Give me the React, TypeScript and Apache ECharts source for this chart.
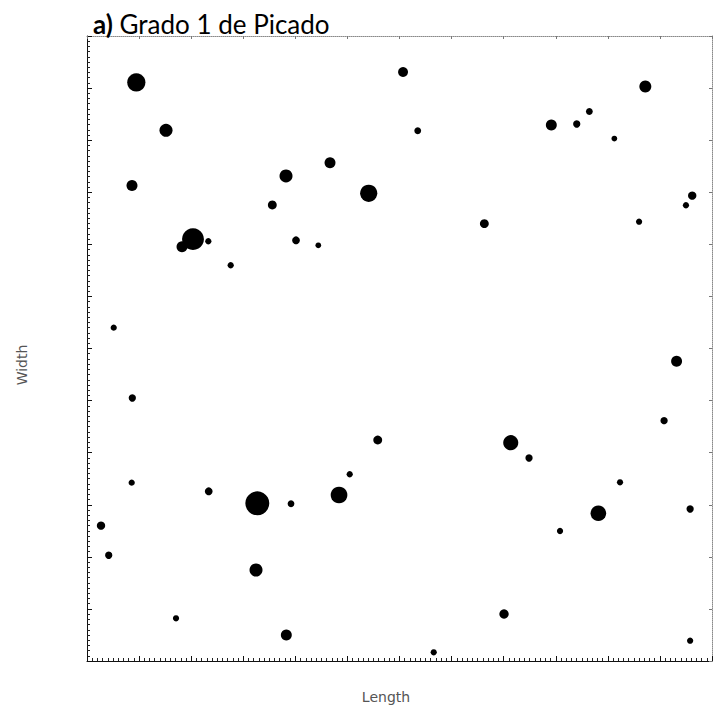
import React, { useEffect, useRef } from "react";
import * as echarts from "echarts";

// Pit centres on the sample surface (axis units) and pit diameters (same units)
const pitLength = [
  0.947, 1.517, 0.864, 2.035, 1.824, 2.329, 2.759, 0.513, 3.558, 3.821,
  4.666, 5.409, 4.013, 4.441, 6.068, 6.35, 7.629, 8.915, 9.403, 9.645,
  10.125, 10.72, 10.6, 11.5, 11.62, 0.87, 5.582, 5.044, 4.839, 3.27,
  3.917, 2.337, 0.858, 0.269, 0.417, 3.245, 1.709, 3.827, 11.32, 11.08,
  8.136, 8.487, 10.234, 9.818, 11.58, 9.082, 8.007, 6.657, 11.58,
];
const pitWidth = [
  11.11, 10.19, 9.13, 8.1, 7.955, 8.059, 7.598, 6.4, 8.756, 9.313,
  9.568, 8.98, 8.078, 7.982, 11.31, 10.18, 8.397, 10.29, 10.31, 10.55,
  10.03, 11.03, 8.435, 8.75, 8.934, 5.05, 4.243, 3.585, 3.187, 3.028,
  3.02, 3.258, 3.424, 2.598, 2.03, 1.747, 0.82, 0.499, 5.755, 4.614,
  4.192, 3.898, 3.431, 2.836, 2.919, 2.496, 0.902, 0.167, 0.39,
];
const pitDiameter = [
  0.35, 0.25, 0.21, 0.42, 0.21, 0.12, 0.12, 0.12, 0.17, 0.25,
  0.21, 0.33, 0.15, 0.11, 0.19, 0.13, 0.17, 0.21, 0.14, 0.13,
  0.11, 0.23, 0.12, 0.12, 0.16, 0.14, 0.17, 0.12, 0.32, 0.46,
  0.13, 0.15, 0.12, 0.16, 0.14, 0.25, 0.12, 0.21, 0.21, 0.14,
  0.29, 0.14, 0.12, 0.3, 0.14, 0.12, 0.18, 0.12, 0.12,
];

const AXIS_MIN = 0;
const AXIS_MAX = 12;

const GRID = { left: 87, top: 36, width: 625, height: 625 };

export default function App() {
  const ref = useRef<HTMLDivElement>(null);

  useEffect(() => {
    if (!ref.current) return;
    const chart = echarts.init(ref.current, null, { renderer: "svg" });
    const pxPerUnit = GRID.width / (AXIS_MAX - AXIS_MIN);
    const data = pitLength.map((x, i) => [x, pitWidth[i], pitDiameter[i]]);

    const mainAxis = {
      min: AXIS_MIN,
      max: AXIS_MAX,
      interval: 1,
      axisLine: { show: true, onZero: false, lineStyle: { color: "#111", width: 1 } },
      axisTick: { show: true, inside: true, length: 5, lineStyle: { color: "#111" } },
      minorTick: { show: true, splitNumber: 10, length: 3, lineStyle: { color: "#222" } },
      axisLabel: { show: false },
      splitLine: { show: false },
      minorSplitLine: { show: false },
    };
    const frameAxis = {
      min: AXIS_MIN,
      max: AXIS_MAX,
      interval: 1,
      axisLine: { show: true, onZero: false, lineStyle: { color: "#8a8a8a", width: 1, type: "dotted" } },
      axisTick: { show: true, inside: true, length: 3, lineStyle: { color: "#777" } },
      axisLabel: { show: false },
      splitLine: { show: false },
    };

    chart.setOption({
      animation: false,
      backgroundColor: "#ffffff",
      title: {
        left: 88,
        top: 6,
        text: "{b|a)} Grado 1 de Picado",
        textStyle: {
          fontFamily: "Lato",
          fontSize: 26,
          fontWeight: "normal",
          color: "#000",
          rich: {
            b: { fontFamily: "Lato", fontSize: 26, fontWeight: "bold", color: "#000" },
          },
        },
      },
      grid: { ...GRID },
      xAxis: [
        { type: "value", position: "bottom", ...mainAxis },
        { type: "value", position: "top", ...frameAxis },
      ],
      yAxis: [
        { type: "value", position: "left", ...mainAxis },
        { type: "value", position: "right", ...frameAxis },
      ],
      graphic: [
        {
          type: "text",
          x: 386,
          y: 697,
          style: {
            text: "Length",
            fontFamily: "DejaVu Sans",
            fontSize: 14,
            fill: "#555",
            align: "center",
            verticalAlign: "middle",
          },
        },
        {
          type: "text",
          x: 22,
          y: 365,
          rotation: Math.PI / 2,
          style: {
            text: "Width",
            fontFamily: "DejaVu Sans",
            fontSize: 14,
            fill: "#555",
            align: "center",
            verticalAlign: "middle",
          },
        },
      ],
      series: [
        {
          type: "scatter",
          xAxisIndex: 0,
          yAxisIndex: 0,
          data,
          symbol: "circle",
          symbolSize: (v: number[]) => v[2] * pxPerUnit,
          itemStyle: { color: "#000", opacity: 1 },
          emphasis: { disabled: true },
        },
      ],
    });

    return () => chart.dispose();
  }, []);

  return (
    <div
      ref={ref}
      style={{ position: "fixed", left: 0, top: 0, width: 713, height: 709, background: "#fff" }}
    />
  );
}
